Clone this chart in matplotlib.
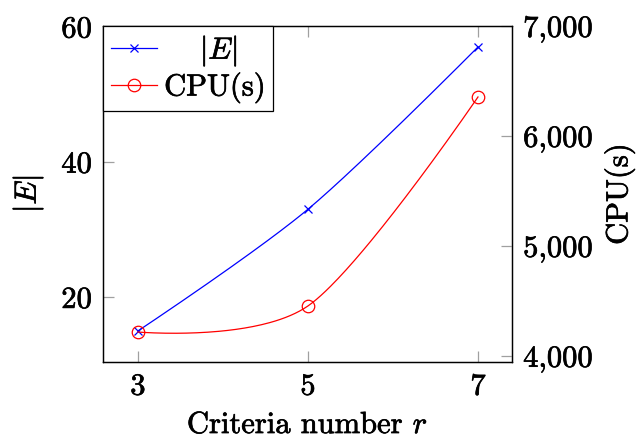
import numpy as np
import matplotlib
matplotlib.use("Agg")
import matplotlib.pyplot as plt
from matplotlib.lines import Line2D
import matplotlib.patheffects as pe

plt.rcParams['font.family'] = ['cmr10', 'DejaVu Serif']
plt.rcParams['mathtext.fontset'] = 'cm'
plt.rcParams['axes.formatter.use_mathtext'] = True
plt.rcParams['axes.unicode_minus'] = False

criteria = [3, 5, 7]
edges = [15, 33, 57]
cpu = [4218, 4455, 6355]

x_ticks = [3, 5, 7]
left_ticks = [20, 40, 60]
right_ticks = [4000, 5000, 6000, 7000]
right_tick_labels = ["4,000", "5,000", "6,000", "7,000"]


def pgf_smooth(x, y, tension=0.55, n=80):
    f = 0.2775 * tension
    pts = np.column_stack([np.asarray(x, float), np.asarray(y, float)])
    N = len(pts)
    out = []
    t = np.linspace(0, 1, n)[:, None]
    for i in range(N - 1):
        p0 = pts[i]
        p3 = pts[i + 1]
        c1 = p0 if i == 0 else p0 + f * (pts[i + 1] - pts[i - 1])
        c2 = p3 if i == N - 2 else p3 - f * (pts[i + 2] - pts[i])
        seg = ((1 - t) ** 3) * p0 + 3 * ((1 - t) ** 2) * t * c1 + 3 * (1 - t) * t ** 2 * c2 + t ** 3 * p3
        out.append(seg if i == 0 else seg[1:])
    c = np.vstack(out)
    return c[:, 0], c[:, 1]


fig = plt.figure(figsize=(6.4, 4.41), dpi=100)
ax = fig.add_axes([0.161, 0.179, 0.639, 0.762])
ax2 = ax.twinx()

FS = 22
tick_col = '#a0a0a0'
thick = [pe.withStroke(linewidth=0.5, foreground='black')]

# blue |E|
bx, by = pgf_smooth(criteria, edges)
ax.plot(bx, by, color='blue', lw=0.9)
ax.plot(criteria, edges, ls='none', marker='x', color='blue', ms=6, mew=0.9)

# red CPU
rx, ry = pgf_smooth(criteria, cpu)
ax2.plot(rx, ry, color='red', lw=0.9)
ax2.plot(criteria, cpu, ls='none', marker='o', mfc='none', mec='red', color='red', ms=9, mew=0.9)

ax.set_xlim(2.59, 7.40)
ax.set_ylim(10.4, 60.1)
ax2.set_ylim(3945, 7000)

ax.set_xticks(x_ticks)
ax.set_xticklabels([str(v) for v in x_ticks])
ax.set_yticks(left_ticks)
ax.set_yticklabels([str(v) for v in left_ticks])
ax2.set_yticks(right_ticks)
ax2.set_yticklabels(right_tick_labels)

ax.tick_params(axis='x', direction='in', top=True, bottom=True, length=8, width=0.9,
               color=tick_col, labelsize=FS, pad=8)
ax.tick_params(axis='y', direction='in', left=True, right=False, length=8, width=0.9,
               color=tick_col, labelsize=FS, pad=8)
ax2.tick_params(axis='y', direction='in', left=False, right=True, length=8, width=0.9,
                color=tick_col, labelsize=FS, pad=8)

for a in (ax, ax2):
    for s in a.spines.values():
        s.set_linewidth(0.9)
        s.set_color('black')

ax.set_xlabel("Criteria number $r$", fontsize=FS, labelpad=8)
ax.set_ylabel("$|E|$", fontsize=FS, labelpad=12)
ax2.set_ylabel("CPU(s)", fontsize=FS, labelpad=8)

handles = [
    Line2D([], [], color='blue', lw=0.9, marker='x', ms=6, mew=0.9),
    Line2D([], [], color='red', lw=0.9, marker='o', mfc='none', ms=9, mew=0.9),
]
leg = ax2.legend(handles, [r"$\quad\,\,|E|$", "CPU(s)"], loc='upper left',
                 bbox_to_anchor=(0, 1), borderaxespad=0, fancybox=False,
                 edgecolor='black', framealpha=1, fontsize=FS,
                 handlelength=1.5, handletextpad=0.25, borderpad=0.25,
                 labelspacing=0.15)
leg.get_frame().set_linewidth(0.9)

texts = (ax.get_xticklabels() + ax.get_yticklabels() + ax2.get_yticklabels()
         + [ax.xaxis.label, ax.yaxis.label, ax2.yaxis.label] + leg.get_texts())
for t in texts:
    t.set_path_effects(thick)

fig.savefig("out.png", dpi=100)
